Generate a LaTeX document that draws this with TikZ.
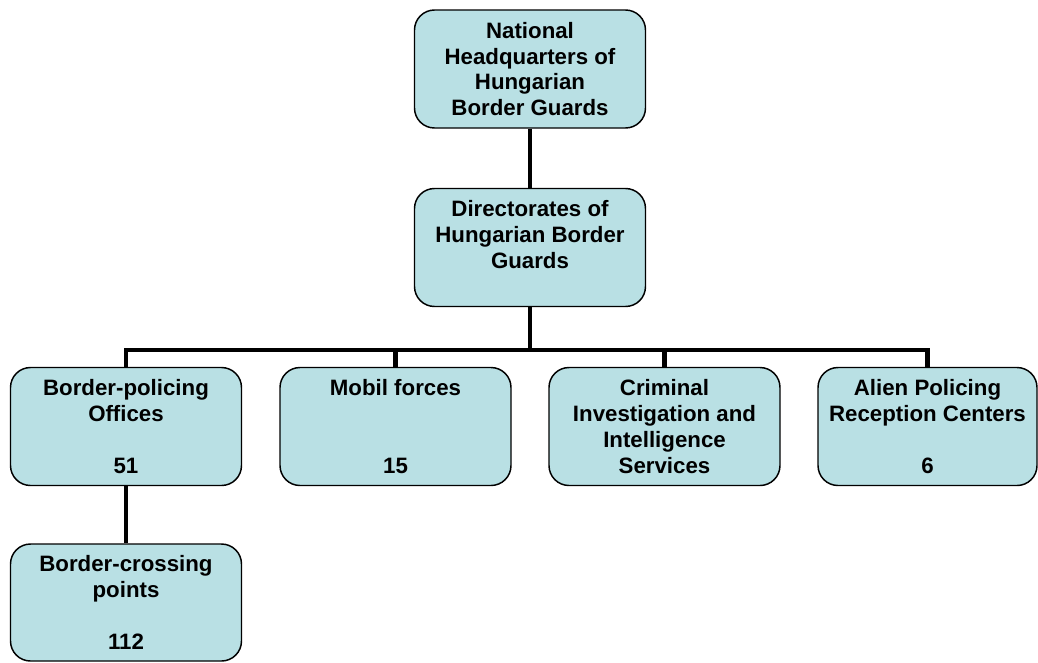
\documentclass[tikz,border=0pt]{standalone}
\usepackage{fontspec}
\setmainfont{Liberation Sans}
\usepackage{tikz}
\definecolor{boxfill}{RGB}{185,224,228}

\begin{document}
\begin{tikzpicture}[x=0.75pt, y=-0.75pt,
		unit/.style={draw=black, line width=1.1pt, fill=boxfill, rounded corners=15pt,
			minimum width=173.25pt, minimum height=88.5pt, align=center, inner sep=2pt,
			font=\bfseries\fontsize{16.7}{19.3}\selectfont},
		link/.style={line width=3.4pt}]
		\useasboundingbox (0, 0) rectangle (1038, 662);
		% Draw the units
		\node[unit] (nhq) at (530, 69) {National\\Headquarters of\\Hungarian\\Border Guards};
		\node[unit] (dir) at (530, 247.5) {Directorates of\\Hungarian Border\\Guards\\~};
		\node[unit] (bpo) at (126, 426.5) {Border-policing\\Offices\\~\\51};
		\node[unit] (mob) at (395.5, 426.5) {Mobil forces\\~\\~\\15};
		\node[unit] (cri) at (664.5, 426.5) {Criminal\\Investigation and\\Intelligence\\Services};
		\node[unit, minimum width=164.25pt] (ali) at (927.5, 426.5) {Alien Policing\\Reception Centers\\~\\6};
		\node[unit, minimum height=87.75pt] (bcp) at (126, 602.5) {Border-crossing\\points\\~\\112};
		
		% Connect them
		\coordinate (bus) at (530, 350);
		\draw[link] (nhq) -- (dir);
		\foreach \n in {bpo, mob, cri, ali}
			\draw[link] (dir.south) |- (bus -| \n.north) -- (\n.north);
		\draw[link] (bpo) -- (bcp);
\end{tikzpicture}
\end{document}
